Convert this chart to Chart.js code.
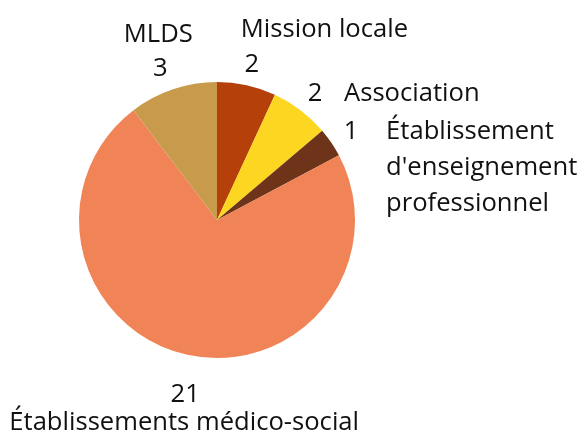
<!DOCTYPE html>
<html>
<head>
<meta charset="utf-8">
<script src="https://cdn.jsdelivr.net/npm/chart.js@4"></script>
<style>
  html, body { margin: 0; padding: 0; background: #fff; }
  canvas { display: block; }
</style>
</head>
<body>
<canvas id="chart" width="582" height="436"></canvas>
<script>
// Data
const categories = [
    'Mission locale',
    'Association',
    ['Établissement', "d'enseignement", 'professionnel'],
    'Établissements médico-social',
    'MLDS'
];
const counts = [2, 2, 1, 21, 3];
const sliceColors = ['#B5400A', '#FDD622', '#6E3419', '#F08456', '#C89B4C'];

// how each label sits around its value
const labelLayout = ['aboveLeft', 'right', 'right', 'below', 'above'];

const FONT = '25.6px "Open Sans", "Noto Sans", sans-serif';

const outsideLabels = {
    id: 'outsideLabels',
    afterDraw: function(chart) {
        const ctx = chart.ctx;
        const meta = chart.getDatasetMeta(0);
        ctx.save();
        ctx.font = FONT;
        ctx.fillStyle = '#111';
        ctx.textBaseline = 'alphabetic';

        meta.data.forEach((arc, i) => {
            const mid = (arc.startAngle + arc.endAngle) / 2;
            const layout = labelLayout[i];
            const dist = arc.outerRadius + (layout === 'below' ? 38 : 24);
            let x = arc.x + Math.cos(mid) * dist;
            const y = arc.y + Math.sin(mid) * dist + 10;
            const lines = [].concat(chart.data.labels[i]);

            if (layout === 'above') x -= 5;
            if (layout === 'below') x += 6;

            ctx.textAlign = 'center';
            ctx.fillText(String(counts[i]), x, y);

            if (layout === 'aboveLeft') {
                ctx.textAlign = 'left';
                ctx.fillText(lines[0], x - 11, y - 35);
            } else if (layout === 'above') {
                ctx.textAlign = 'center';
                ctx.fillText(lines[0], x - 2, y - 34);
            } else if (layout === 'right') {
                ctx.textAlign = 'left';
                const gap = lines.length > 1 ? 35 : 29;
                lines.forEach((line, k) => {
                    ctx.fillText(line, x + gap, y + k * 36);
                });
            } else if (layout === 'below') {
                ctx.textAlign = 'center';
                ctx.fillText(lines[0], x - 1, y + 28);
            }
        });
        ctx.restore();
    }
};

new Chart(document.getElementById('chart'), {
    type: 'pie',
    data: {
        labels: categories,
        datasets: [{
            data: counts,
            backgroundColor: sliceColors,
            borderWidth: 0
        }]
    },
    options: {
        responsive: false,
        animation: false,
        layout: {
            padding: { left: 79, right: 227, top: 82, bottom: 78 }
        },
        plugins: {
            legend: { display: false },
            tooltip: { enabled: false }
        }
    },
    plugins: [outsideLabels]
});
</script>
</body>
</html>
